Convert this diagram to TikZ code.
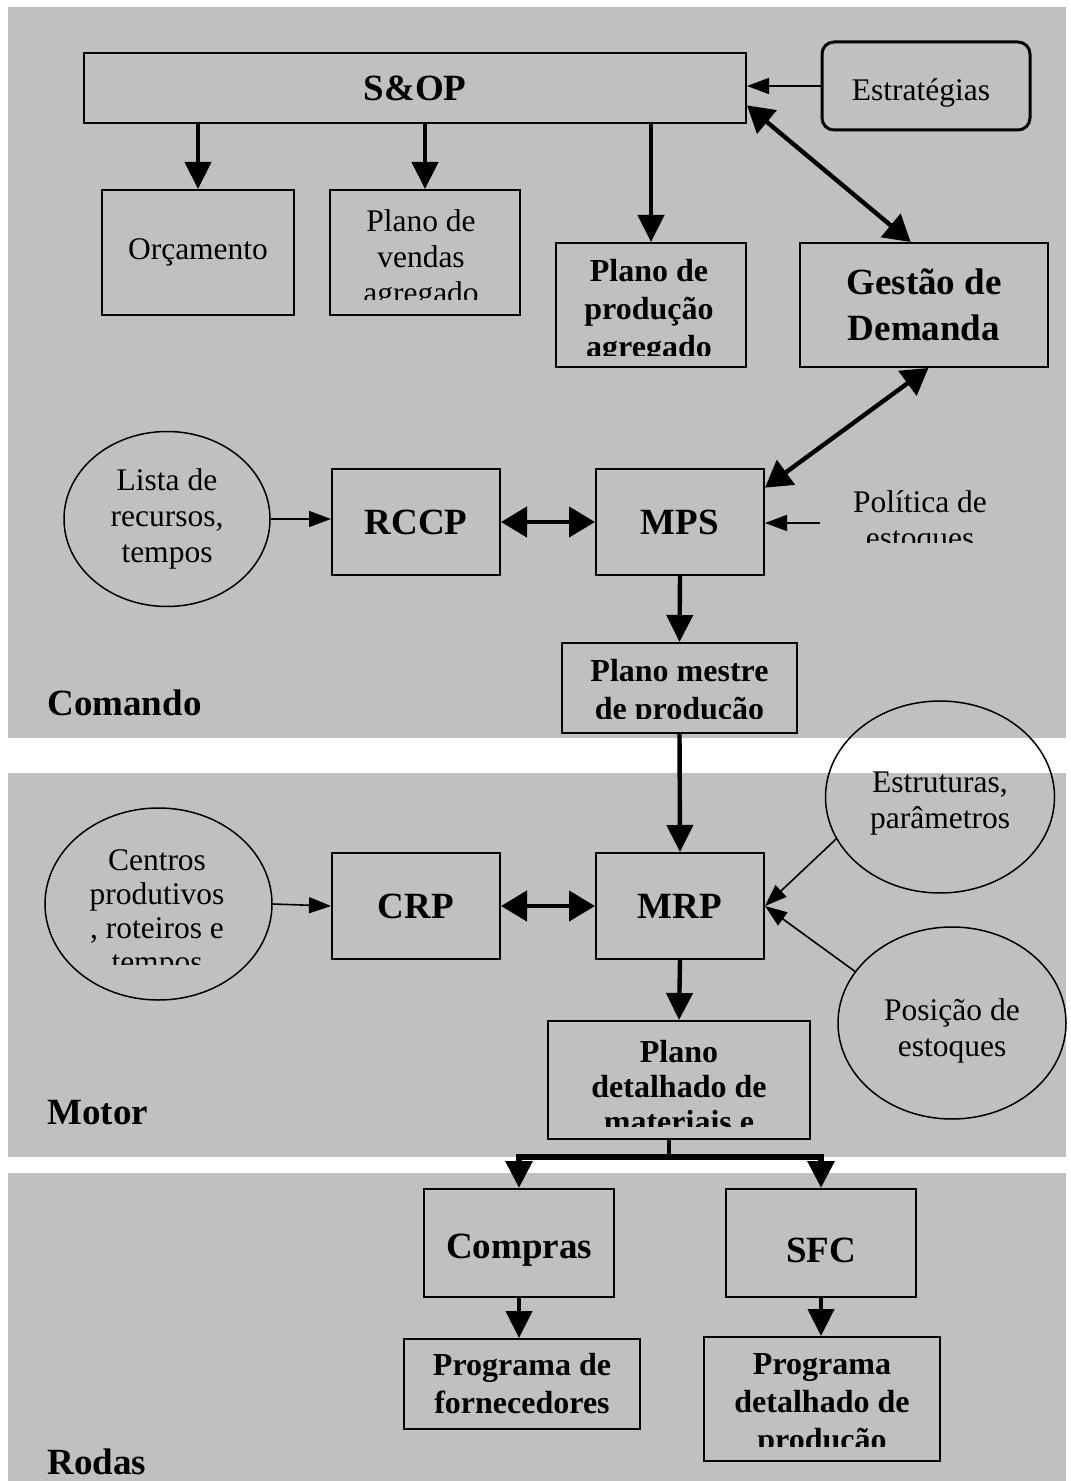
\documentclass[tikz,border=0pt]{standalone}
\usepackage{fontspec}
\setmainfont{Liberation Serif}
\usepackage{xcolor}
\usetikzlibrary{arrows.meta,positioning,shapes.geometric}

\definecolor{panel}{HTML}{C0C0C0}

% text that is cut off below a given line
\newcommand{\cuttext}[5]{%
  \begin{scope}
    \clip (0,0) rectangle (1070,#3);
    \node[#4] (#1) at #2 {#5};
  \end{scope}}

\tikzset{
  box/.style={draw, line width=1pt, inner sep=0pt},
  oval/.style={draw, ellipse, line width=0.75pt, inner sep=0pt},
  plain/.style={align=center, font=\fontsize{15.75}{18}\selectfont},
  midbold/.style={align=center, font=\fontsize{16}{19}\selectfont\bfseries},
  bigbold/.style={align=center, font=\fontsize{18.5}{23}\selectfont\bfseries},
  heavy/.style={line width=2.2pt, ->},
  twoway/.style={line width=2.2pt, {Triangle[length=13pt,width=15pt]}-{Triangle[length=13pt,width=15pt]}},
  feed/.style={line width=0.8pt, -{Triangle[length=11pt,width=8pt]}},
}

\begin{document}
\begin{tikzpicture}[x=0.5pt, y=-0.5pt, >={Triangle[length=13.5pt,width=13pt]}]
  \useasboundingbox (0,0) rectangle (1070,1481);
  \fill[panel] (8,7) rectangle (1066,738);
  \fill[panel] (8,773) rectangle (1066,1157);
  \fill[panel] (8,1173) rectangle (1066,1481);

  % Comando
  \node[box, bigbold, minimum width=331pt, minimum height=35pt] (sop) at (415,88) {S\&OP};
  \node[box, rounded corners=6pt, line width=1.5pt, minimum width=104pt, minimum height=44pt] (estr) at (926,86) {};
  \node[plain] (estr-t) at (921,93) {Estratégias};
  \node[box, plain, minimum width=96pt, minimum height=62.5pt] (orc) at (198,252.5) {Orçamento};
  \node[box, minimum width=95pt, minimum height=62.5pt] (vendas) at (425,252.5) {};
  \cuttext{vendas-t}{(421,260)}{300}{plain}{Plano de\\vendas\\agregado}
  \node[box, minimum width=95pt, minimum height=62pt] (prod) at (651,305) {};
  \cuttext{prod-t}{(649,312)}{355}{midbold}{Plano de\\produção\\agregado}
  \node[box, bigbold, minimum width=124pt, minimum height=62pt] (gestao) at (924,305) {Gestão de\\Demanda};
  \node[oval, plain, minimum width=103pt, minimum height=87.5pt] (lista) at (167,519) {Lista de\\recursos,\\tempos};
  \node[box, bigbold, minimum width=84pt, minimum height=53pt] (rccp) at (416,522) {RCCP};
  \node[box, bigbold, minimum width=84pt, minimum height=53pt] (mps) at (680,522) {MPS};
  \cuttext{pol}{(920,523)}{542}{plain, minimum width=100pt}{Política de\\estoques}
  \node[box, minimum width=117.5pt, minimum height=45pt] (mestre) at (679.5,688) {};
  \cuttext{mestre-t}{(679.5,693)}{718}{midbold}{Plano mestre\\de produção}
  \node[bigbold, anchor=west, inner sep=0pt] (cmd) at (47,703) {Comando};

  % Motor
  \node[oval, minimum width=113.5pt, minimum height=96pt] (centros) at (158.5,904) {};
  \cuttext{centros-t}{(157,914)}{964}{plain, font=\fontsize{15.75}{17}\selectfont}{Centros\\produtivos\\, roteiros e\\tempos}
  \node[box, bigbold, minimum width=84pt, minimum height=53pt] (crp) at (416,906) {CRP};
  \node[box, bigbold, minimum width=84pt, minimum height=53pt] (mrp) at (680,906) {MRP};
  \node[oval, minimum width=114.5pt, minimum height=96pt] (estrut) at (940,797) {};
  \node[plain] (estrut-t) at (940,804) {Estruturas,\\parâmetros};
  \node[oval, minimum width=114pt, minimum height=96pt] (posicao) at (952,1023) {};
  \node[plain] (posicao-t) at (952,1031) {Posição de\\estoques};
  \node[box, minimum width=131pt, minimum height=59pt] (detal) at (679,1080) {};
  \cuttext{detal-t}{(679,1087)}{1126}{midbold, font=\fontsize{16}{17.5}\selectfont\bfseries}{Plano\\detalhado de\\materiais e}
  \node[bigbold, anchor=west, inner sep=0pt] (mot) at (47,1113) {Motor};

  % Rodas
  \node[box, minimum width=95pt, minimum height=54pt] (compras) at (519,1243) {};
  \node[bigbold] (compras-t) at (519,1250) {Compras};
  \node[box, bigbold, minimum width=95pt, minimum height=54pt] (sfc) at (821,1243) {};
  \node[bigbold] (sfc-t) at (821,1250) {SFC};
  \node[box, midbold, minimum width=118pt, minimum height=45pt] (progforn) at (522,1384) {Programa de\\fornecedores};
  \node[box, minimum width=118pt, minimum height=62pt] (progdet) at (822,1399) {};
  \cuttext{progdet-t}{(822,1405)}{1446}{midbold}{Programa\\detalhado de\\produção}
  \node[bigbold, anchor=west, inner sep=0pt] (rod) at (47,1462) {Rodas};

  % ligações
  \draw[feed] (estr.west) -- (estr.west -| sop.east);
  \draw[heavy] (orc.north |- sop.south) -- (orc.north);
  \draw[heavy] (vendas.north |- sop.south) -- (vendas.north);
  \draw[heavy] (prod.north |- sop.south) -- (prod.north);
  \draw[twoway] (sop.-3) -- (gestao.102);
  \draw[twoway] (gestao.-86) -- (mps.22);
  \draw[feed] (lista.east) -- (lista.east -| rccp.west);
  \draw[twoway] (rccp.east) -- (mps.west);
  \draw[feed] (pol.west) -- (pol.west -| mps.east);
  \draw[heavy] (mps.south) -- (mestre.north);
  \draw[heavy] (mestre.south) -- (mrp.north);
  \draw[feed] (centros.east) -- (crp.west);
  \draw[twoway] (crp.east) -- (mrp.west);
  \draw[feed] (estrut.202) -- (mrp.east);
  \draw[feed] (posicao.152) -- (mrp.east);
  \draw[heavy] (mrp.south) -- (detal.north);
  \coordinate (split) at (669,1157);
  \draw[line width=1.6pt] (split |- detal.south) -- (split);
  \draw[heavy, line width=3pt] (split) -| (compras.north);
  \draw[heavy, line width=3pt] (split) -| (sfc.north);
  \draw[heavy] (compras.south) -- (compras.south |- progforn.north);
  \draw[heavy] (sfc.south) -- (sfc.south |- progdet.north);
\end{tikzpicture}
\end{document}
